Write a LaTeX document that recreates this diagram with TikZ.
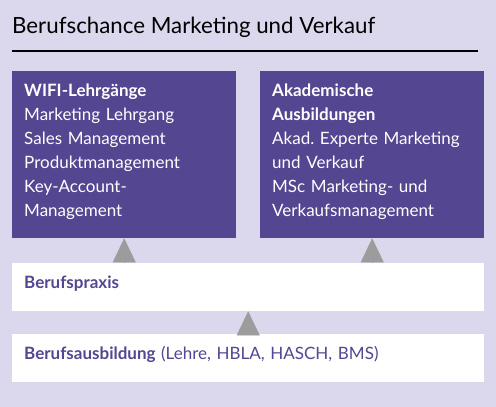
\documentclass[tikz,border=0pt]{standalone}
\usepackage{fontspec}
\setmainfont{Lato}
\usetikzlibrary{arrows.meta,positioning}
\definecolor{bglila}{RGB}{219,215,236}
\definecolor{boxlila}{RGB}{84,70,145}
\definecolor{pfeilgrau}{RGB}{156,156,156}
\frenchspacing

\begin{document}
\begin{tikzpicture}
		[x=1pt,y=-1pt,
		lila box/.style={anchor=north west,fill=boxlila,text=white,align=left,
			text width=200pt,inner xsep=12pt,inner ysep=11pt,
			minimum width=224pt,
			font=\fontsize{17}{24}\selectfont},
		weiss box/.style={anchor=north west,fill=white,text=boxlila,align=left,
			text width=448pt,inner xsep=12pt,inner ysep=0pt,
			minimum width=472pt,minimum height=48pt,
			text height=12pt,text depth=9pt,
			font=\fontsize{17}{24}\selectfont},
		pfeil/.style={draw=pfeilgrau,line width=0.1pt,
			-{Triangle[length=24pt,width=23pt,fill=pfeilgrau]}}]
		\fill[bglila] (0,0) rectangle (496,407);
		\useasboundingbox (0,0) rectangle (496,407);
		
		\node [anchor=base west,inner sep=0pt,font=\fontsize{22.3}{26}\selectfont] (0) at (12,33) {Berufschance Marketing und Verkauf};
		\draw[line width=2pt] (12,51) -- (478,51);
		
		\node [lila box] (1) at (12,71) {\rule{0pt}{14pt}\textbf{WIFI-Lehrgänge}\\Marketing Lehrgang\\Sales Management\\Produktmanagement\\Key-Account-\\Management\rule[-11pt]{0pt}{0pt}};
		\node [lila box] (2) at (260,71) {\rule{0pt}{14pt}\textbf{Akademische}\\\textbf{Ausbildungen}\\Akad. Experte Marketing\\und Verkauf\\MSc Marketing- und\\Verkaufsmanagement\rule[-11pt]{0pt}{0pt}};
		
		\node [weiss box] (3) at (12,263) {\textbf{Berufspraxis}};
		\node [weiss box] (4) at (12,334) {\textbf{Berufsausbildung} (Lehre, HBLA, HASCH, BMS)};
		
		\path[]
		(1.south |- 3.north) edge[pfeil] (1.south)
		(2.south |- 3.north) edge[pfeil] (2.south)
		(4.north) edge[pfeil] (3.south)
		;
		
\end{tikzpicture}
\end{document}
